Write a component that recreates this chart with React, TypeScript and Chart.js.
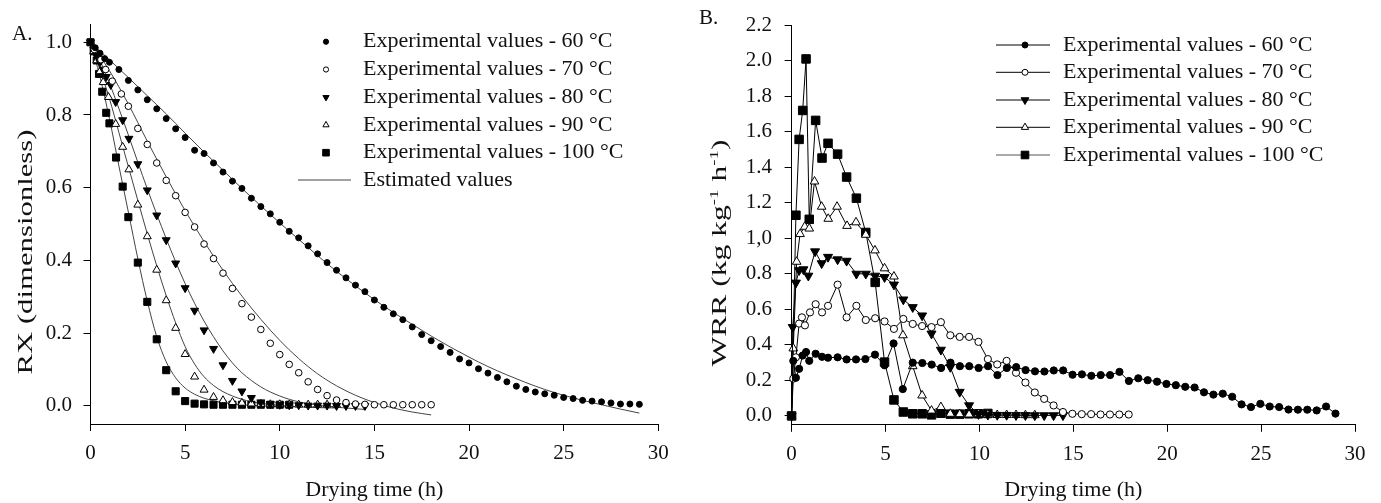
import React, { useEffect, useRef } from "react";
import { Chart, registerables } from "chart.js";

Chart.register(...registerables);

const SERIF = '"Liberation Serif", "Times New Roman", serif';
const INK = "#111";

type Pair = [number, number];

// ---------- axes / labels ----------
const X_TICKS = [0, 5, 10, 15, 20, 25, 30];
const A_Y_TICKS = [0, 0.2, 0.4, 0.6, 0.8, 1.0];
const A_Y_LABELS = ["0.0", "0.2", "0.4", "0.6", "0.8", "1.0"];
const B_Y_TICKS = [0, 0.2, 0.4, 0.6, 0.8, 1.0, 1.2, 1.4, 1.6, 1.8, 2.0, 2.2];
const B_Y_LABELS = ["0.0", "0.2", "0.4", "0.6", "0.8", "1,0", "1.2", "1.4", "1.6", "1.8", "2.0", "2.2"];
const X_TITLE = "Drying time (h)";
const A_Y_TITLE = "RX (dimensionless)";
const LEGEND_LABELS = [
  "Experimental values - 60 °C",
  "Experimental values - 70 °C",
  "Experimental values - 80 °C",
  "Experimental values - 90 °C",
  "Experimental values - 100 °C",
];
const EST_LABEL = "Estimated values";

// ---------- panel A: moisture ratio (experimental) ----------
const A_EXP_60: Pair[] = [
  [0, 1.0], [0.25, 0.985], [0.5, 0.97], [0.75, 0.955], [1, 0.945], [1.5, 0.925], [2, 0.895], [2.5, 0.869],
  [3, 0.842], [3.5, 0.817], [4, 0.79], [4.5, 0.762], [5, 0.738], [5.5, 0.703], [6, 0.694], [6.5, 0.668],
  [7, 0.643], [7.5, 0.618], [8, 0.598], [8.5, 0.571], [9, 0.548], [9.5, 0.528], [10, 0.505], [10.5, 0.48],
  [11, 0.462], [11.5, 0.44], [12, 0.418], [12.5, 0.394], [13, 0.373], [13.5, 0.352], [14, 0.332], [14.5, 0.314],
  [15, 0.291], [15.5, 0.271], [16, 0.253], [16.5, 0.237], [17, 0.217], [17.5, 0.196], [18, 0.179], [18.5, 0.163],
  [19, 0.147], [19.5, 0.129], [20, 0.118], [20.5, 0.102], [21, 0.09], [21.5, 0.078], [22, 0.066], [22.5, 0.054],
  [23, 0.045], [23.5, 0.038], [24, 0.033], [24.5, 0.029], [25, 0.023], [25.5, 0.02], [26, 0.015], [26.5, 0.013],
  [27, 0.011], [27.5, 0.008], [28, 0.005], [28.5, 0.005], [29, 0.004],
];
const A_EXP_70: Pair[] = [
  [0, 1.0], [0.2, 0.98], [0.55, 0.952], [0.8, 0.925], [1.15, 0.893], [1.63, 0.858], [2, 0.824], [2.5, 0.763],
  [3, 0.719], [3.5, 0.668], [4, 0.62], [4.5, 0.578], [5, 0.532], [5.5, 0.492], [6, 0.445], [6.5, 0.405],
  [7, 0.365], [7.5, 0.323], [8, 0.281], [8.5, 0.244], [9, 0.21], [9.5, 0.172], [10, 0.141], [10.5, 0.114],
  [11, 0.091], [11.5, 0.066], [12, 0.045], [12.5, 0.028], [13, 0.016], [13.5, 0.009], [14, 0.005], [14.5, 0.004],
  [15, 0.003], [15.5, 0.003], [16, 0.003], [16.5, 0.003], [17, 0.003], [17.5, 0.003], [18, 0.003],
];
const A_EXP_80: Pair[] = [
  [0, 1.0], [0.17, 0.98], [0.33, 0.962], [0.5, 0.945], [0.67, 0.925], [0.83, 0.905], [1.07, 0.883], [1.33, 0.836],
  [1.7, 0.786], [2.03, 0.735], [2.5, 0.665], [3, 0.593], [3.5, 0.524], [4, 0.456], [4.5, 0.392], [5, 0.324],
  [5.5, 0.262], [6, 0.208], [6.5, 0.157], [7, 0.112], [7.5, 0.069], [8, 0.04], [8.5, 0.022], [9, 0.01],
  [9.5, 0.005], [10, 0.003], [10.5, 0.002], [11, 0.002], [11.5, 0.001], [12, 0.001], [12.5, 0.001], [13, 0.0],
  [13.5, 0.0], [14, 0.0], [14.5, 0.0],
];
const A_EXP_90: Pair[] = [
  [0, 1.0], [0.17, 0.975], [0.33, 0.95], [0.5, 0.92], [0.67, 0.89], [0.95, 0.849], [1.33, 0.775], [1.7, 0.712],
  [2.03, 0.65], [2.5, 0.553], [3, 0.466], [3.5, 0.374], [4, 0.29], [4.5, 0.214], [5, 0.142], [5.5, 0.08],
  [6, 0.044], [6.5, 0.024], [7, 0.015], [7.5, 0.01], [8, 0.008], [8.5, 0.006], [9, 0.005], [9.5, 0.004],
  [10, 0.004], [10.5, 0.003], [11, 0.003], [11.5, 0.003], [12, 0.003], [12.5, 0.003], [13, 0.003],
];
const A_EXP_100: Pair[] = [
  [0, 1.0], [0.17, 0.975], [0.33, 0.95], [0.45, 0.913], [0.62, 0.864], [0.83, 0.806], [1.0, 0.777], [1.35, 0.683],
  [1.7, 0.603], [2.0, 0.519], [2.5, 0.394], [3.0, 0.286], [3.5, 0.183], [4.0, 0.098], [4.5, 0.04], [5.0, 0.013],
  [5.5, 0.006], [6, 0.004], [6.5, 0.003], [7, 0.003], [7.5, 0.003], [8, 0.003], [8.5, 0.003], [9, 0.003],
  [9.5, 0.003], [10, 0.003], [10.5, 0.003],
];

// ---------- panel A: estimated curves ----------
const A_EST_60: Pair[] = [
  [0, 1.0], [1, 0.952], [2, 0.903], [3, 0.853], [4, 0.803], [5, 0.75], [6, 0.698], [7, 0.648], [8, 0.598],
  [9, 0.55], [10, 0.503], [11, 0.458], [12, 0.413], [13, 0.37], [14, 0.33], [15, 0.292], [16, 0.257],
  [17, 0.224], [18, 0.192], [19, 0.162], [20, 0.134], [21, 0.108], [22, 0.085], [23, 0.064], [24, 0.045],
  [25, 0.029], [26, 0.015], [27, 0.003], [28, -0.009], [29, -0.02],
];
const A_EST_70: Pair[] = [
  [0, 1.0], [1, 0.922], [2, 0.83], [3, 0.728], [4, 0.63], [5, 0.537], [6, 0.452], [7, 0.373], [8, 0.302],
  [9, 0.238], [10, 0.18], [11, 0.13], [12, 0.088], [13, 0.055], [14, 0.029], [15, 0.009], [16, -0.006],
  [17, -0.017], [18, -0.025],
];
const A_EST_80: Pair[] = [
  [0, 1.0], [0.5, 0.95], [1, 0.888], [1.5, 0.818], [2, 0.745], [2.5, 0.67], [3, 0.597], [3.5, 0.527], [4, 0.46],
  [4.5, 0.396], [5, 0.336], [5.5, 0.282], [6, 0.233], [6.5, 0.19], [7, 0.151], [7.5, 0.118], [8, 0.091],
  [9, 0.052], [10, 0.027], [11, 0.011], [12, 0.002], [13, -0.004], [14, -0.008], [14.5, -0.01],
];
const A_EST_90: Pair[] = [
  [0, 1.0], [0.5, 0.925], [1, 0.845], [1.5, 0.752], [2, 0.658], [2.5, 0.565], [3, 0.473], [3.5, 0.385],
  [4, 0.303], [4.5, 0.228], [5, 0.163], [5.5, 0.115], [6, 0.08], [6.5, 0.056], [7, 0.039], [8, 0.018],
  [9, 0.007], [10, 0.001], [11, -0.003], [12, -0.005], [13, -0.006],
];
const A_EST_100: Pair[] = [
  [0, 1.0], [0.5, 0.905], [1, 0.79], [1.5, 0.66], [2, 0.533], [2.5, 0.405], [3, 0.288], [3.5, 0.19],
  [4, 0.121], [4.5, 0.077], [5, 0.049], [5.5, 0.032], [6, 0.021], [7, 0.009], [8, 0.003], [9, 0.0],
  [10, -0.002], [10.5, -0.003],
];

// ---------- panel B: water removal rate ----------
const B_WRR_60: Pair[] = [
  [0, 0], [0.09, 0.31], [0.23, 0.215], [0.4, 0.265], [0.59, 0.34], [0.77, 0.36], [0.94, 0.31], [1.28, 0.35],
  [1.62, 0.333], [1.94, 0.328], [2.45, 0.33], [2.93, 0.318], [3.43, 0.318], [3.93, 0.32], [4.44, 0.345],
  [4.95, 0.285], [5.43, 0.408], [5.92, 0.151], [6.45, 0.3], [6.96, 0.298], [7.46, 0.289], [7.96, 0.27],
  [8.46, 0.3], [8.96, 0.28], [9.46, 0.28], [9.96, 0.27], [10.46, 0.28], [10.96, 0.23], [11.46, 0.27],
  [11.96, 0.275], [12.46, 0.258], [12.96, 0.251], [13.46, 0.25], [13.96, 0.256], [14.46, 0.256], [14.96, 0.232],
  [15.46, 0.234], [15.96, 0.226], [16.46, 0.23], [16.96, 0.23], [17.46, 0.248], [17.96, 0.197], [18.46, 0.212],
  [18.96, 0.201], [19.46, 0.193], [19.96, 0.18], [20.46, 0.173], [20.96, 0.164], [21.46, 0.16], [21.96, 0.133],
  [22.46, 0.12], [22.96, 0.125], [23.46, 0.108], [23.96, 0.065], [24.46, 0.05], [24.96, 0.068], [25.46, 0.053],
  [25.96, 0.05], [26.46, 0.036], [26.96, 0.035], [27.46, 0.035], [27.96, 0.031], [28.46, 0.053], [28.96, 0.013],
];
const B_WRR_70: Pair[] = [
  [0, 0], [0.09, 0.21], [0.23, 0.33], [0.4, 0.52], [0.55, 0.555], [0.71, 0.51], [0.98, 0.583], [1.28, 0.629],
  [1.62, 0.583], [1.94, 0.62], [2.45, 0.739], [2.93, 0.555], [3.45, 0.62], [3.95, 0.54], [4.45, 0.55],
  [4.95, 0.532], [5.45, 0.49], [5.95, 0.546], [6.45, 0.518], [6.95, 0.506], [7.45, 0.5], [7.95, 0.528],
  [8.45, 0.454], [8.95, 0.445], [9.45, 0.445], [9.95, 0.417], [10.45, 0.32], [10.95, 0.29], [11.45, 0.31],
  [11.95, 0.243], [12.45, 0.188], [12.95, 0.132], [13.45, 0.096], [13.95, 0.059], [14.45, 0.022], [14.95, 0.012],
  [15.45, 0.01], [15.95, 0.01], [16.45, 0.008], [16.95, 0.008], [17.45, 0.008], [17.95, 0.008],
];
const B_WRR_80: Pair[] = [
  [0, 0], [0.06, 0.5], [0.23, 0.75], [0.4, 0.82], [0.63, 0.825], [0.89, 0.789], [1.25, 0.926], [1.6, 0.859],
  [1.94, 0.895], [2.45, 0.881], [2.93, 0.873], [3.45, 0.8], [3.95, 0.8], [4.45, 0.789], [4.95, 0.781],
  [5.45, 0.739], [5.95, 0.655], [6.45, 0.612], [6.95, 0.565], [7.45, 0.463], [7.95, 0.372], [8.45, 0.275],
  [8.95, 0.135], [9.45, 0.059], [9.95, 0.01], [10.45, 0.006], [10.95, 0.005], [11.45, 0.005], [11.95, 0.004],
  [12.45, 0.004], [12.95, 0.003], [13.45, 0.003], [13.95, 0.003], [14.45, 0.003],
];
const B_WRR_90: Pair[] = [
  [0, 0], [0.09, 0.38], [0.27, 0.868], [0.45, 1.024], [0.7, 1.065], [0.94, 1.055], [1.22, 1.32], [1.6, 1.178],
  [1.95, 1.11], [2.42, 1.178], [2.95, 1.07], [3.43, 1.09], [3.95, 1.02], [4.44, 0.932], [4.95, 0.831],
  [5.45, 0.785], [5.93, 0.454], [6.45, 0.28], [6.95, 0.115], [7.45, 0.03], [7.95, 0.05], [8.45, 0.012],
  [8.95, 0.01], [9.45, 0.008], [9.95, 0.01], [10.45, 0.008], [10.95, 0.005], [11.45, 0.005], [11.95, 0.005],
  [12.45, 0.004], [12.95, 0.004],
];
const B_WRR_100: Pair[] = [
  [0, 0], [0.23, 1.13], [0.4, 1.557], [0.59, 1.72], [0.77, 2.01], [0.94, 1.107], [1.28, 1.664], [1.62, 1.452],
  [1.94, 1.535], [2.45, 1.474], [2.93, 1.345], [3.45, 1.226], [3.95, 1.033], [4.45, 0.752], [4.95, 0.303],
  [5.45, 0.09], [5.95, 0.022], [6.45, 0.012], [6.95, 0.012], [7.45, 0.006], [7.95, 0.015], [8.45, 0.01],
  [8.95, 0.01], [9.45, 0.012], [9.95, 0.012], [10.45, 0.014],
];

const A_EXP = [A_EXP_60, A_EXP_70, A_EXP_80, A_EXP_90, A_EXP_100];
const A_EST = [A_EST_60, A_EST_70, A_EST_80, A_EST_90, A_EST_100];
const B_WRR = [B_WRR_60, B_WRR_70, B_WRR_80, B_WRR_90, B_WRR_100];

// marker look per temperature
const MARK_STYLE = ["circle", "circle", "triangle", "triangle", "rect"];
const MARK_ROT = [0, 0, 180, 0, 0];
const MARK_FILLED = [true, false, true, false, true];
const MARK_KIND = ["circle", "circle", "down", "up", "square"];
const A_RADII = [3, 3.3, 4.6, 4.6, 5];
const B_RADII = [3.6, 3.6, 5.2, 5, 6];

const pts = (arr: Pair[]) => arr.map(([x, y]) => ({ x, y }));

function drawMarker(ctx: CanvasRenderingContext2D, kind: string, x: number, y: number, r: number, filled: boolean) {
  ctx.beginPath();
  if (kind === "circle") ctx.arc(x, y, r, 0, Math.PI * 2);
  else if (kind === "down") {
    ctx.moveTo(x - r * 0.866, y - r * 0.5);
    ctx.lineTo(x + r * 0.866, y - r * 0.5);
    ctx.lineTo(x, y + r);
    ctx.closePath();
  } else if (kind === "up") {
    ctx.moveTo(x, y - r);
    ctx.lineTo(x + r * 0.866, y + r * 0.5);
    ctx.lineTo(x - r * 0.866, y + r * 0.5);
    ctx.closePath();
  } else ctx.rect(x - r, y - r, 2 * r, 2 * r);
  ctx.fillStyle = filled ? "#000" : "#fff";
  ctx.fill();
  ctx.lineWidth = 1;
  ctx.strokeStyle = "#000";
  ctx.stroke();
}

type Part = { t: string; sup?: boolean };
function drawVerticalTitle(ctx: CanvasRenderingContext2D, parts: Part[], cx: number, cy: number, length: number, size: number) {
  ctx.save();
  ctx.translate(cx, cy);
  ctx.rotate(-Math.PI / 2);
  const fontOf = (p: Part) => `${p.sup ? Math.round(size * 0.62) : size}px ${SERIF}`;
  let w = 0;
  const widths = parts.map((p) => {
    ctx.font = fontOf(p);
    const m = ctx.measureText(p.t).width;
    w += m;
    return m;
  });
  ctx.scale(length / w, 1);
  let x = -w / 2;
  ctx.fillStyle = INK;
  ctx.textBaseline = "middle";
  ctx.textAlign = "left";
  parts.forEach((p, i) => {
    ctx.font = fontOf(p);
    ctx.fillText(p.t, x, p.sup ? -size * 0.3 : 0);
    x += widths[i];
  });
  ctx.restore();
}

function xAxis(height: number) {
  return {
    type: "linear" as const,
    min: 0,
    max: 30,
    afterBuildTicks: (s: any) => {
      s.ticks = X_TICKS.map((v) => ({ value: v }));
    },
    afterFit: (s: any) => {
      s.height = height;
    },
    grid: { drawOnChartArea: false, drawTicks: true, tickLength: 7, color: "#000", lineWidth: 1 },
    border: { display: true, color: "#000", width: 1 },
    ticks: {
      font: { family: SERIF, size: 21 },
      color: INK,
      padding: 10,
      maxRotation: 0,
      autoSkip: false,
      callback: (v: any) => String(v),
    },
    title: {
      display: true,
      text: X_TITLE,
      font: { family: SERIF, size: 22 },
      color: INK,
      padding: { top: 0, bottom: 0 },
    },
  };
}

function yAxis(min: number, max: number, ticks: number[], labels: string[], width: number, pad: number) {
  return {
    type: "linear" as const,
    min,
    max,
    afterBuildTicks: (s: any) => {
      s.ticks = ticks.map((v) => ({ value: v }));
    },
    afterFit: (s: any) => {
      s.width = width;
    },
    grid: { drawOnChartArea: false, drawTicks: true, tickLength: 7, color: "#000", lineWidth: 1 },
    border: { display: true, color: "#000", width: 1 },
    ticks: {
      font: { family: SERIF, size: 21 },
      color: INK,
      padding: pad,
      autoSkip: false,
      callback: (_v: any, i: number) => labels[i],
    },
    title: { display: false },
  };
}

const overlayA = {
  id: "overlayA",
  afterDraw(chart: any) {
    const ctx: CanvasRenderingContext2D = chart.ctx;
    ctx.save();
    ctx.fillStyle = INK;
    ctx.font = `21px ${SERIF}`;
    ctx.textBaseline = "middle";
    ctx.textAlign = "left";
    ctx.fillText("A.", 12, 34);
    drawVerticalTitle(ctx, [{ t: A_Y_TITLE }], 27, 252, 245, 20);
    // legend
    const rowsY = [41.7, 69.5, 97.3, 125, 152.7, 180];
    const legR = [2.6, 2.6, 3.6, 3.6, 3.3];
    ctx.font = `22px ${SERIF}`;
    for (let i = 0; i < 5; i++) {
      drawMarker(ctx, MARK_KIND[i], 326, rowsY[i], legR[i], MARK_FILLED[i]);
      ctx.fillStyle = INK;
      ctx.textBaseline = "middle";
      ctx.fillText(LEGEND_LABELS[i], 363, rowsY[i]);
    }
    ctx.beginPath();
    ctx.moveTo(298, rowsY[5]);
    ctx.lineTo(351, rowsY[5]);
    ctx.strokeStyle = "#444";
    ctx.lineWidth = 1;
    ctx.stroke();
    ctx.fillStyle = INK;
    ctx.fillText(EST_LABEL, 363, rowsY[5]);
    ctx.restore();
  },
};

const overlayB = {
  id: "overlayB",
  afterDraw(chart: any) {
    const ctx: CanvasRenderingContext2D = chart.ctx;
    ctx.save();
    ctx.fillStyle = INK;
    ctx.font = `21px ${SERIF}`;
    ctx.textBaseline = "middle";
    ctx.textAlign = "left";
    ctx.fillText("B.", 9, 18);
    drawVerticalTitle(
      ctx,
      [{ t: "WRR (kg kg" }, { t: "-1", sup: true }, { t: " h" }, { t: "-1", sup: true }, { t: ")" }],
      31,
      253,
      227,
      20
    );
    const rowsY = [45, 72.3, 100, 127.3, 155];
    const legR = [3, 3, 4.5, 4.2, 3.8];
    ctx.font = `22px ${SERIF}`;
    for (let i = 0; i < 5; i++) {
      ctx.beginPath();
      ctx.moveTo(306, rowsY[i]);
      ctx.lineTo(360, rowsY[i]);
      ctx.strokeStyle = i === 4 ? "#555" : "#000";
      ctx.lineWidth = 1;
      ctx.stroke();
      drawMarker(ctx, MARK_KIND[i], 335, rowsY[i], legR[i], MARK_FILLED[i]);
      ctx.fillStyle = INK;
      ctx.textBaseline = "middle";
      ctx.fillText(LEGEND_LABELS[i], 373, rowsY[i]);
    }
    ctx.restore();
  },
};

function configA(): any {
  const exp = A_EXP.map((d, i) => ({
    label: LEGEND_LABELS[i],
    data: pts(d),
    showLine: false,
    pointStyle: MARK_STYLE[i],
    pointRotation: MARK_ROT[i],
    pointRadius: A_RADII[i],
    pointBackgroundColor: MARK_FILLED[i] ? "#000" : "#fff",
    pointBorderColor: "#000",
    pointBorderWidth: 1,
    clip: false,
  }));
  const est = A_EST.map((d) => ({
    label: EST_LABEL,
    data: pts(d),
    showLine: true,
    pointRadius: 0,
    borderColor: "#444",
    borderWidth: 1,
    cubicInterpolationMode: "monotone",
    clip: false,
  }));
  return {
    type: "scatter",
    data: { datasets: [...exp, ...est] },
    options: {
      responsive: false,
      animation: false,
      events: [],
      layout: { padding: { top: 15, right: 31.7, bottom: 0, left: 0 } },
      plugins: { legend: { display: false }, tooltip: { enabled: false } },
      scales: {
        x: xAxis(79),
        y: yAxis(-0.05, 1.05, A_Y_TICKS, A_Y_LABELS, 90.5, 11.5),
      },
    },
    plugins: [overlayA],
  };
}

function configB(): any {
  const ds = B_WRR.map((d, i) => ({
    label: LEGEND_LABELS[i],
    data: pts(d),
    showLine: true,
    borderColor: "#000",
    borderWidth: 1,
    tension: 0,
    pointStyle: MARK_STYLE[i],
    pointRotation: MARK_ROT[i],
    pointRadius: B_RADII[i],
    pointBackgroundColor: MARK_FILLED[i] ? "#000" : "#fff",
    pointBorderColor: "#000",
    pointBorderWidth: 1,
    clip: false,
  }));
  return {
    type: "scatter",
    data: { datasets: ds },
    options: {
      responsive: false,
      animation: false,
      events: [],
      layout: { padding: { top: 16.7, right: 26, bottom: 0, left: 0 } },
      plugins: { legend: { display: false }, tooltip: { enabled: false } },
      scales: {
        x: xAxis(78.2),
        y: yAxis(-0.05, 2.2, B_Y_TICKS, B_Y_LABELS, 101.6, 12.6),
      },
    },
    plugins: [overlayB],
  };
}

export default function App() {
  const refA = useRef<HTMLCanvasElement>(null);
  const refB = useRef<HTMLCanvasElement>(null);
  useEffect(() => {
    const a = new Chart(refA.current as HTMLCanvasElement, configA());
    const b = new Chart(refB.current as HTMLCanvasElement, configB());
    return () => {
      a.destroy();
      b.destroy();
    };
  }, []);
  return (
    <div style={{ position: "absolute", left: 0, top: 0, width: 1381, height: 503, background: "#fff", overflow: "hidden" }}>
      <canvas ref={refA} width={690} height={503} style={{ position: "absolute", left: 0, top: 0, width: 690, height: 503 }} />
      <canvas ref={refB} width={691} height={503} style={{ position: "absolute", left: 690, top: 0, width: 691, height: 503 }} />
    </div>
  );
}
